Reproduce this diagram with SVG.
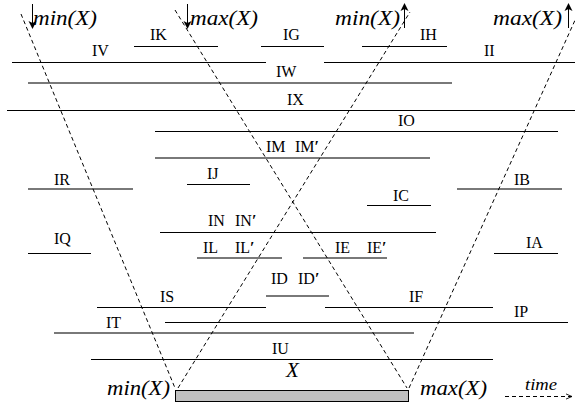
<svg xmlns="http://www.w3.org/2000/svg" width="575" height="409" viewBox="0 0 575 409">
<defs>
<style>
.iv{stroke:#000;stroke-width:1;fill:none}
.g{stroke:#000;stroke-width:1.3;fill:none;opacity:0.7}
.lb{font-family:"Liberation Serif","Times New Roman","DejaVu Serif",serif;font-size:16px;fill:#000}
.pr{font-weight:bold}
.it{font-family:"Liberation Serif","Times New Roman","DejaVu Serif",serif;font-style:italic;font-size:21px;fill:#000}
.dash{stroke:#000;stroke-width:1;stroke-dasharray:4,3;fill:none}
.arr{stroke:#000;stroke-width:1;fill:none}
</style>
<marker id="ah" viewBox="0 0 8 10" refX="7" refY="5" markerWidth="8" markerHeight="10" markerUnits="userSpaceOnUse" orient="auto">
<path d="M0,1 L8,5 L0,9 L2,5 Z" fill="#000"/>
</marker>
<marker id="oh" viewBox="0 0 8 8" refX="7" refY="4" markerWidth="7" markerHeight="7" markerUnits="userSpaceOnUse" orient="auto">
<path d="M0,1 L7,4 L0,7" fill="none" stroke="#000" stroke-width="1"/>
</marker>
</defs>
<rect width="575" height="409" fill="#fff"/>

<g id="connectors">
<line class="dash" x1="21" y1="14" x2="175" y2="388"/>
<line class="dash" x1="175" y1="10" x2="407" y2="388"/>
<line class="dash" x1="178" y1="388" x2="410" y2="12"/>
<line class="dash" x1="409" y1="388" x2="576" y2="18"/>
<line class="arr" x1="32.5" y1="4" x2="32.5" y2="28" marker-end="url(#ah)"/>
<line class="arr" x1="187.5" y1="4" x2="187.5" y2="28" marker-end="url(#ah)"/>
<line class="arr" x1="404.5" y1="28" x2="404.5" y2="4" marker-end="url(#ah)"/>
<line class="arr" x1="568.5" y1="28" x2="568.5" y2="4" marker-end="url(#ah)"/>
<line class="dash" x1="505" y1="396.5" x2="572" y2="396.5" marker-end="url(#oh)"/>
</g>

<g id="axis-labels">
<text class="it" x="33" y="25" textLength="64" lengthAdjust="spacingAndGlyphs">min(X)</text>
<text class="it" x="190" y="25" textLength="68" lengthAdjust="spacingAndGlyphs">max(X)</text>
<text class="it" x="335" y="25" textLength="65" lengthAdjust="spacingAndGlyphs">min(X)</text>
<text class="it" x="493" y="25" textLength="69" lengthAdjust="spacingAndGlyphs">max(X)</text>
<text class="it" x="107" y="395" textLength="63" lengthAdjust="spacingAndGlyphs">min(X)</text>
<text class="it" x="420" y="395" textLength="67" lengthAdjust="spacingAndGlyphs">max(X)</text>
<text class="it" x="286" y="377">X</text>
<text class="it" x="525" y="390" style="font-size:16px" textLength="32" lengthAdjust="spacingAndGlyphs">time</text>
</g>

<g id="X">
<rect x="175.5" y="390.5" width="233" height="11" fill="#c0c0c0" stroke="#000" stroke-width="1"/>
</g>

<g id="IK"><line class="iv" x1="134" y1="46.5" x2="218" y2="46.5"/><text class="lb" x="150" y="40">IK</text></g>
<g id="IG"><line class="iv" x1="261" y1="46.5" x2="324" y2="46.5"/><text class="lb" x="283" y="40">IG</text></g>
<g id="IH"><line class="iv" x1="362" y1="46.5" x2="447" y2="46.5"/><text class="lb" x="420" y="40">IH</text></g>
<g id="IV"><line class="iv" x1="12" y1="62.5" x2="266" y2="62.5"/><text class="lb" x="92" y="56">IV</text></g>
<g id="II"><line class="iv" x1="324" y1="62.5" x2="575" y2="62.5"/><text class="lb" x="484" y="56">II</text></g>
<g id="IW"><line class="g" x1="28" y1="83" x2="452" y2="83"/><text class="lb" x="276" y="77">IW</text></g>
<g id="IX"><line class="iv" x1="7" y1="110.5" x2="575" y2="110.5"/><text class="lb" x="287" y="105">IX</text></g>
<g id="IO"><line class="iv" x1="155" y1="131.5" x2="558" y2="131.5"/><text class="lb" x="398" y="126">IO</text></g>
<g id="IM"><line class="g" x1="155" y1="158" x2="430" y2="158"/><text class="lb" x="266" y="152">IM</text><text class="lb" x="295" y="152">IM<tspan class="pr">′</tspan></text></g>
<g id="IJ"><line class="iv" x1="187" y1="184.5" x2="250" y2="184.5"/><text class="lb" x="207" y="179">IJ</text></g>
<g id="IR"><line class="g" x1="28" y1="189" x2="133" y2="189"/><text class="lb" x="54" y="185">IR</text></g>
<g id="IB"><line class="g" x1="457" y1="189" x2="562" y2="189"/><text class="lb" x="514" y="185">IB</text></g>
<g id="IC"><line class="iv" x1="367" y1="205.5" x2="431" y2="205.5"/><text class="lb" x="393" y="201">IC</text></g>
<g id="IN"><line class="iv" x1="160" y1="232.5" x2="436" y2="232.5"/><text class="lb" x="208" y="226">IN</text><text class="lb" x="235" y="226">IN<tspan class="pr">′</tspan></text></g>
<g id="IQ"><line class="iv" x1="28" y1="253.5" x2="91" y2="253.5"/><text class="lb" x="54" y="244">IQ</text></g>
<g id="IA"><line class="iv" x1="494" y1="253.5" x2="558" y2="253.5"/><text class="lb" x="526" y="248">IA</text></g>
<g id="IL"><line class="g" x1="197" y1="258" x2="282" y2="258"/><text class="lb" x="203" y="253">IL</text><text class="lb" x="235" y="253">IL<tspan class="pr">′</tspan></text></g>
<g id="IE"><line class="g" x1="303" y1="258" x2="387" y2="258"/><text class="lb" x="335" y="253">IE</text><text class="lb" x="367" y="253">IE<tspan class="pr">′</tspan></text></g>
<g id="ID"><line class="g" x1="266" y1="296" x2="329" y2="296"/><text class="lb" x="271" y="284">ID</text><text class="lb" x="298" y="284">ID<tspan class="pr">′</tspan></text></g>
<g id="IS"><line class="iv" x1="97" y1="307.5" x2="266" y2="307.5"/><text class="lb" x="160" y="302">IS</text></g>
<g id="IF"><line class="iv" x1="325" y1="307.5" x2="493" y2="307.5"/><text class="lb" x="409" y="302">IF</text></g>
<g id="IP"><line class="iv" x1="165" y1="322.5" x2="568" y2="322.5"/><text class="lb" x="514" y="317">IP</text></g>
<g id="IT"><line class="g" x1="54" y1="333" x2="414" y2="333"/><text class="lb" x="106" y="328">IT</text></g>
<g id="IU"><line class="iv" x1="91" y1="359.5" x2="493" y2="359.5"/><text class="lb" x="272" y="354">IU</text></g>
</svg>
